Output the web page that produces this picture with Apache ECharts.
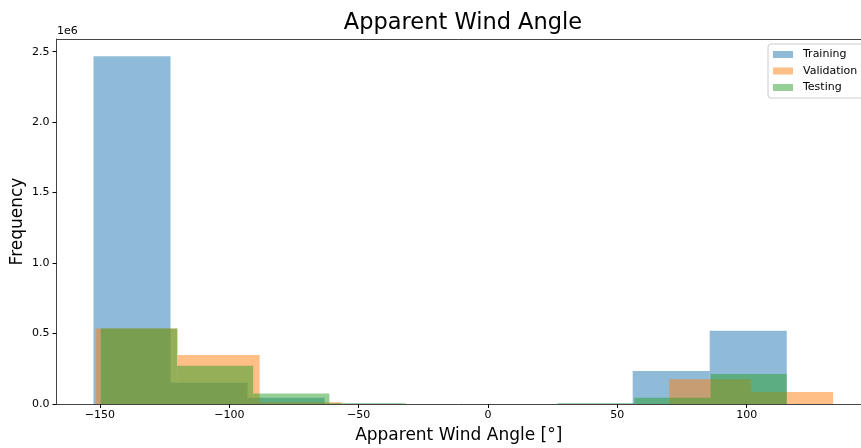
<!DOCTYPE html>
<html><head><meta charset="utf-8">
<script src="https://cdn.jsdelivr.net/npm/echarts@6/dist/echarts.min.js"></script>
<style>html,body{margin:0;padding:0;background:#fff}#c{width:861px;height:448px}</style>
</head><body><div id="c"></div>
<script>
const seriesNames = ['Training', 'Validation', 'Testing'];
const trainingEdges = [-152.5, -122.72, -92.94, -63.17, -33.39, -3.61, 26.17, 55.94, 85.72, 115.5];
const trainingCounts = [2468000, 151000, 45000, 2000, 0, 0, 2000, 234000, 519000];
const validationEdges = [-151.6, -119.93, -88.27, -56.6, -24.93, 6.73, 38.4, 70.07, 101.73, 133.4];
const validationCounts = [535000, 347000, 12000, 0, 0, 0, 0, 175000, 85000];
const testingEdges = [-149.7, -120.23, -90.77, -61.3, -31.83, -2.37, 27.1, 56.57, 86.03, 115.5];
const testingCounts = [535000, 271000, 75000, 5000, 0, 0, 5000, 44000, 212000];
const xTicks = [-150, -100, -50, 0, 50, 100];
const yTicks = [0, 500000, 1000000, 1500000, 2000000, 2500000];
const colors = ['rgba(31,119,180,0.5)', 'rgba(255,127,14,0.5)', 'rgba(44,160,44,0.5)'];

function toBins(edges, counts) {
  return counts.map((c, i) => [edges[i], edges[i + 1], c]);
}
const allBins = [
  toBins(trainingEdges, trainingCounts),
  toBins(validationEdges, validationCounts),
  toBins(testingEdges, testingCounts)
];

function renderHist(params, api) {
  const x0 = api.value(0), x1 = api.value(1), c = api.value(2);
  const p0 = api.coord([x0, c]);
  const p1 = api.coord([x1, 0]);
  return {
    type: 'rect',
    shape: { x: p0[0], y: p0[1], width: p1[0] - p0[0], height: p1[1] - p0[1] },
    style: { fill: api.visual('color') }
  };
}

const FONT = 'DejaVu Sans';
const chart = echarts.init(document.getElementById('c'), null, { renderer: 'canvas' });
chart.setOption({
  animation: false,
  textStyle: { fontFamily: FONT },
  grid: { left: 56.5, right: 0, top: 39, bottom: 44, show: false, containLabel: false, outerBoundsMode: 'none' },
  graphic: [
    { type: 'text', x: 463, y: 23, style: { text: 'Apparent Wind Angle', font: '22.5px "DejaVu Sans"', fill: '#000', textAlign: 'center', textVerticalAlign: 'middle' } },
    { type: 'text', x: 57, y: 37, style: { text: '1e6', font: '11px "DejaVu Sans"', fill: '#000', textAlign: 'left', textVerticalAlign: 'bottom' } }
  ],
  legend: {
    orient: 'vertical', left: 768, top: 44,
    data: seriesNames,
    icon: 'rect', itemWidth: 20, itemHeight: 7, itemGap: 3.5,
    padding: [4, 8, 4, 5],
    borderColor: '#ccc', borderWidth: 1, borderRadius: 3, backgroundColor: '#fff',
    textStyle: { fontFamily: FONT, fontSize: 11, color: '#000', lineHeight: 13, padding: [0, 0, 0, 5] }
  },
  xAxis: [{
    type: 'value', min: -166.8, max: 144.2,
    name: 'Apparent Wind Angle [°]', nameLocation: 'middle', nameGap: 23, nameMoveOverlap: false,
    nameTextStyle: { fontFamily: FONT, fontSize: 17, color: '#000' },
    splitLine: { show: false },
    axisLine: { show: true, onZero: false, lineStyle: { color: '#444', width: 1 } },
    axisTick: { show: true, length: 4, customValues: xTicks, lineStyle: { color: '#000' } },
    axisLabel: { customValues: xTicks, margin: 6, fontSize: 11, color: '#000', fontFamily: FONT,
      formatter: v => String(v).replace('-', '\u2212') }
  }, {
    type: 'value', position: 'top', min: -166.8, max: 144.2,
    splitLine: { show: false },
    axisLine: { show: true, onZero: false, lineStyle: { color: '#444', width: 1 } },
    axisTick: { show: false }, axisLabel: { show: false }
  }],
  yAxis: {
    type: 'value', min: 0, max: 2590000,
    name: 'Frequency', nameLocation: 'middle', nameGap: 30, nameRotate: 90, nameMoveOverlap: false,
    nameTextStyle: { fontFamily: FONT, fontSize: 17, color: '#000' },
    splitLine: { show: false },
    axisLine: { show: true, onZero: false, lineStyle: { color: '#444', width: 1 } },
    axisTick: { show: true, length: 4, customValues: yTicks, lineStyle: { color: '#000' } },
    axisLabel: { customValues: yTicks, margin: 7, fontSize: 11, color: '#000', fontFamily: FONT,
      formatter: v => (v / 1e6).toFixed(1) }
  },
  series: seriesNames.map((n, i) => ({
    type: 'custom', name: n,
    renderItem: renderHist,
    encode: { x: [0, 1], y: 2 },
    itemStyle: { color: colors[i] },
    data: allBins[i],
    clip: true
  }))
});
</script></body></html>
